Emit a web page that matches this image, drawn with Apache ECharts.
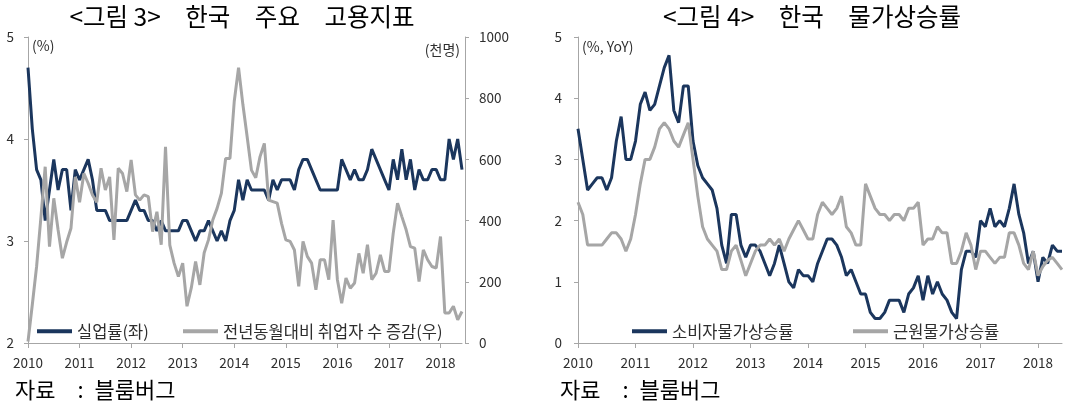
<!DOCTYPE html>
<html>
<head>
<meta charset="utf-8">
<script src="https://cdn.jsdelivr.net/npm/echarts@6/dist/echarts.min.js"></script>
<style>
html,body{margin:0;padding:0;background:#fff;}
#chart{width:1070px;height:409px;}
</style>
</head>
<body>
<div id="chart"></div>
<script>
// ---------------- DATA ----------------
// Monthly categories Jan 2010 – Jun 2018
const months = [];
for (let y = 2010; y <= 2018; y++) {
  for (let m = 1; m <= 12; m++) {
    if (y === 2018 && m > 6) break;
    months.push(y + '-' + (m < 10 ? '0' + m : m));
  }
}

// Figure 3: unemployment rate (%, left axis)
const unemploymentRate = [
  4.7,4.1,3.7,3.6,3.2,3.5,3.8,3.5,3.7,3.7,
  3.3,3.7,3.6,3.7,3.8,3.6,3.3,3.3,3.3,3.2,
  3.2,3.2,3.2,3.2,3.3,3.4,3.3,3.3,3.2,3.2,
  3.1,3.2,3.1,3.1,3.1,3.1,3.2,3.2,3.1,3.0,
  3.1,3.1,3.2,3.1,3.0,3.1,3.0,3.2,3.3,3.6,
  3.4,3.6,3.5,3.5,3.5,3.5,3.4,3.6,3.5,3.6,
  3.6,3.6,3.5,3.7,3.8,3.8,3.7,3.6,3.5,3.5,
  3.5,3.5,3.5,3.8,3.7,3.6,3.7,3.6,3.6,3.7,
  3.9,3.8,3.7,3.6,3.5,3.8,3.6,3.9,3.6,3.8,
  3.5,3.7,3.6,3.6,3.7,3.7,3.6,3.6,4.0,3.8,
  4.0,3.7
];

// Figure 3: YoY change in employed persons (thousand, right axis)
const employmentChange = [
  5,125,250,410,576,315,473,370,277,330,
  375,543,460,554,522,484,460,571,500,543,
  337,571,554,495,598,484,467,484,478,364,
  429,321,641,320,261,217,261,120,180,266,
  190,295,337,402,440,489,603,603,790,900,
  780,674,565,540,609,652,467,462,457,391,
  337,332,304,185,332,283,261,174,272,272,
  207,402,207,130,212,179,196,293,228,321,
  207,228,288,234,234,359,457,413,370,315,
  310,201,304,272,250,245,348,98,98,120,
  76,103
];

// Figure 4: consumer price inflation (%, YoY)
const cpiInflation = [
  3.5,3.0,2.5,2.6,2.7,2.7,2.5,2.7,3.3,3.7,
  3.0,3.0,3.3,3.9,4.1,3.8,3.9,4.2,4.5,4.7,
  3.8,3.6,4.2,4.2,3.3,2.9,2.7,2.6,2.5,2.2,
  1.6,1.3,2.1,2.1,1.6,1.4,1.6,1.6,1.5,1.3,
  1.1,1.3,1.6,1.3,1.0,0.9,1.2,1.1,1.1,1.0,
  1.3,1.5,1.7,1.7,1.6,1.4,1.1,1.2,1.0,0.8,
  0.8,0.5,0.4,0.4,0.5,0.7,0.7,0.7,0.5,0.8,
  0.9,1.1,0.7,1.1,0.8,1.0,0.8,0.7,0.5,0.4,
  1.2,1.5,1.5,1.4,2.0,1.9,2.2,1.9,2.0,1.9,
  2.2,2.6,2.1,1.8,1.3,1.5,1.0,1.4,1.3,1.6,
  1.5,1.5
];

// Figure 4: core inflation (%, YoY)
const coreInflation = [
  2.3,2.1,1.6,1.6,1.6,1.6,1.7,1.8,1.8,1.7,
  1.5,1.7,2.1,2.6,3.0,3.0,3.2,3.5,3.6,3.5,
  3.3,3.2,3.4,3.6,3.0,2.4,1.9,1.7,1.6,1.5,
  1.2,1.2,1.5,1.6,1.35,1.1,1.3,1.5,1.6,1.6,
  1.7,1.6,1.7,1.5,1.7,1.85,2.0,1.85,1.7,1.7,
  2.1,2.3,2.2,2.1,2.2,2.4,1.9,1.8,1.6,1.6,
  2.6,2.4,2.2,2.1,2.1,2.0,2.1,2.1,2.0,2.2,
  2.2,2.3,1.6,1.7,1.7,1.9,1.8,1.8,1.3,1.3,
  1.5,1.8,1.6,1.2,1.5,1.5,1.4,1.3,1.4,1.4,
  1.8,1.8,1.6,1.3,1.2,1.5,1.1,1.25,1.35,1.4,
  1.3,1.2
];

const seriesNames = {
  unemp: '실업률(좌)',
  emp: '전년동월대비 취업자 수 증감(우)',
  cpi: '소비자물가상승률',
  core: '근원물가상승률'
};
const titles = ['<그림 3>\u3000한국\u3000주요\u3000고용지표', '<그림 4>\u3000한국\u3000물가상승률'];
const unitLabels = ['(%)', '(천명)', '(%, YoY)'];
const sourceText = '자료\u3000:\u2002블룸버그';

// ---------------- STYLE ----------------
const FONT = '"Noto Sans CJK KR", "Noto Sans", sans-serif';
const NAVY = '#1b365d';
const GRAY = '#a6a6a6';
const AXIS = '#a6a6a6';
const TXT = '#2e2e2e';

function xAxisFor(gridIndex) {
  return {
    gridIndex: gridIndex,
    type: 'category',
    data: months,
    boundaryGap: false,
    axisLine: { show: true, lineStyle: { color: AXIS, width: 1 } },
    axisTick: { show: true, interval: 11, length: 5, lineStyle: { color: AXIS } },
    axisLabel: {
      interval: 11, margin: 13, color: TXT, fontFamily: FONT, fontSize: 13.5,
      formatter: v => v.slice(0, 4)
    },
    splitLine: { show: false }
  };
}
function yAxisFor(gridIndex, min, max, interval, position, offset, margin) {
  return {
    gridIndex: gridIndex, type: 'value', min: min, max: max, interval: interval,
    position: position, offset: offset || 0,
    axisLine: { show: true, lineStyle: { color: AXIS, width: 1 } },
    axisTick: { show: true, length: 4, lineStyle: { color: AXIS } },
    axisLabel: { margin: margin, color: TXT, fontFamily: FONT, fontSize: 13.5, formatter: v => String(v) },
    splitLine: { show: false }
  };
}
function legendFor(name, left) {
  return {
    data: [name], left: left, top: 323, icon: 'rect',
    itemWidth: 35, itemHeight: 4, padding: 0,
    textStyle: { color: TXT, fontFamily: FONT, fontSize: 16.5 },
    selectedMode: false
  };
}
function lineSeries(name, data, color, xi, yi) {
  return {
    name: name, type: 'line', data: data, xAxisIndex: xi, yAxisIndex: yi,
    symbol: 'none', color: color, lineStyle: { color: color, width: 3 },
    emphasis: { disabled: true }
  };
}
function txt(text, x, y, size, align, fill) {
  return {
    type: 'text', x: x, y: y, silent: true,
    style: { text: text, fill: fill || '#000', font: size + 'px ' + FONT, align: align || 'left', verticalAlign: 'middle' }
  };
}

const chart = echarts.init(document.getElementById('chart'), null, { renderer: 'canvas' });
chart.setOption({
  animation: false,
  backgroundColor: '#fff',
  grid: [
    { left: 28, top: 37, width: 434, height: 306 },
    { left: 578, top: 37, width: 484, height: 306 }
  ],
  xAxis: [xAxisFor(0), xAxisFor(1)],
  yAxis: [
    yAxisFor(0, 2, 5, 1, 'left', 0, 14),
    yAxisFor(0, 0, 1000, 200, 'right', 3, 14),
    yAxisFor(1, 0, 5, 1, 'left', 0, 16)
  ],
  legend: [
    legendFor(seriesNames.unemp, 37),
    legendFor(seriesNames.emp, 183),
    legendFor(seriesNames.cpi, 632),
    legendFor(seriesNames.core, 853)
  ],
  series: [
    lineSeries(seriesNames.unemp, unemploymentRate, NAVY, 0, 0),
    lineSeries(seriesNames.emp, employmentChange, GRAY, 0, 1),
    lineSeries(seriesNames.cpi, cpiInflation, NAVY, 1, 2),
    lineSeries(seriesNames.core, coreInflation, GRAY, 1, 2)
  ],
  graphic: [
    txt(titles[0], 242, 17, 24.5, 'center'),
    txt(titles[1], 812, 17, 24.5, 'center'),
    txt(unitLabels[0], 32, 46, 14, 'left', TXT),
    txt(unitLabels[1], 460, 50, 14, 'right', TXT),
    txt(unitLabels[2], 582, 47, 14, 'left', TXT),
    txt(sourceText, 15, 390, 22, 'left'),
    txt(sourceText, 560, 390, 22, 'left')
  ]
});
</script>
</body>
</html>
